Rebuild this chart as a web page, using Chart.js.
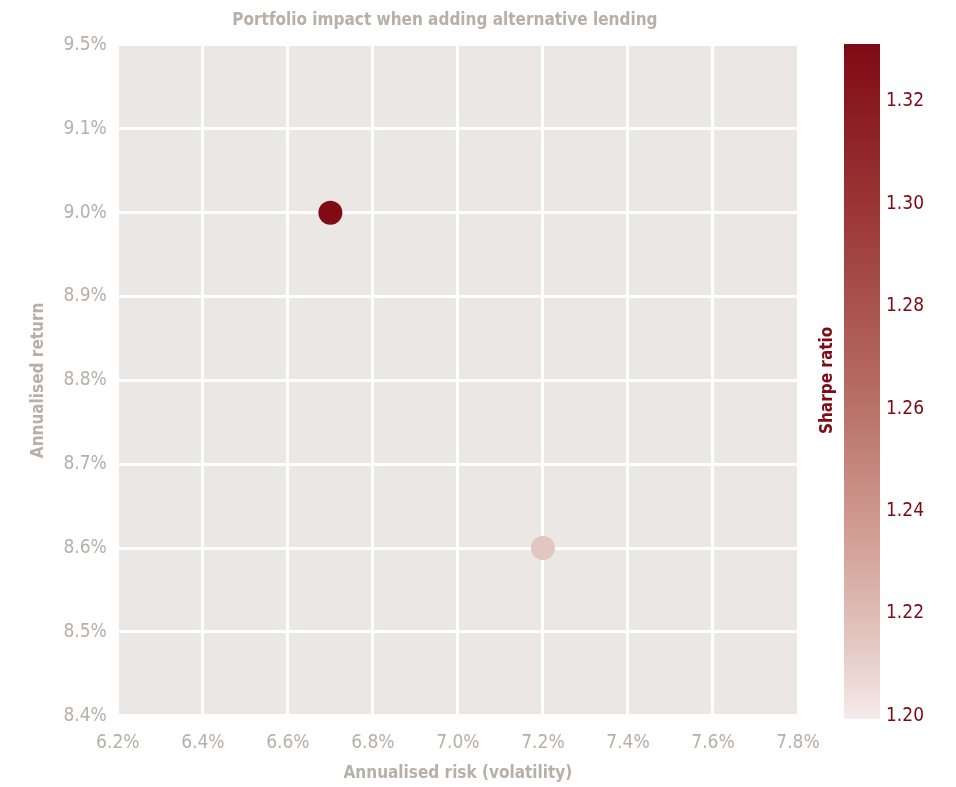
<!DOCTYPE html>
<html>
<head>
<meta charset="utf-8">
<script src="https://cdn.jsdelivr.net/npm/chart.js@4/dist/chart.umd.min.js"></script>
<style>
  html, body { margin: 0; padding: 0; background: #fff; }
  #wrap { width: 956px; height: 787px; position: relative; }
</style>
</head>
<body>
<div id="wrap"><canvas id="chart"></canvas></div>
<script>
// Data
const riskValues = [6.7, 7.2];
const returnValues = [9.0, 8.6];
const sharpeValues = [1.33, 1.215];

const xTickLabels = ['6.2%', '6.4%', '6.6%', '6.8%', '7.0%', '7.2%', '7.4%', '7.6%', '7.8%'];
const yTickLabels = ['8.4%', '8.5%', '8.6%', '8.7%', '8.8%', '8.9%', '9.0%', '9.1%', '9.5%'];
const sharpeTicks = [1.20, 1.22, 1.24, 1.26, 1.28, 1.30, 1.32];
const sharpeMin = 1.20;
const sharpeMax = 1.331;

const FONT = "'DejaVu Sans Condensed', 'Liberation Sans Narrow', sans-serif";
const GREY = '#b7afa8';
const DARK_RED = '#7d0a14';
const PLOT_BG = '#ebe7e4';

// colour map for the sharpe ratio, light -> dark
const cmapStops = [
  [0.0, [244, 233, 233]],
  [0.1, [228, 202, 196]],
  [0.25, [212, 162, 152]],
  [0.5, [180, 105, 95]],
  [0.75, [155, 55, 55]],
  [1.0, [128, 10, 20]]
];

function sharpeColor(v) {
  let t = (v - sharpeMin) / (sharpeMax - sharpeMin);
  t = Math.max(0, Math.min(1, t));
  for (let i = 1; i < cmapStops.length; i++) {
    const [t1, c1] = cmapStops[i];
    const [t0, c0] = cmapStops[i - 1];
    if (t <= t1) {
      const f = (t - t0) / (t1 - t0);
      const c = c0.map((a, k) => Math.round(a + (c1[k] - a) * f));
      return `rgb(${c[0]},${c[1]},${c[2]})`;
    }
  }
  return 'rgb(128,10,20)';
}

const points = riskValues.map((x, i) => ({ x: x, y: returnValues[i] }));

// plot background, title and colour bar
const decorPlugin = {
  id: 'decor',
  beforeDraw(chart) {
    const { ctx, chartArea } = chart;
    ctx.save();
    ctx.fillStyle = PLOT_BG;
    ctx.fillRect(chartArea.left, chartArea.top, chartArea.right - chartArea.left, chartArea.bottom - chartArea.top);
    ctx.fillStyle = GREY;
    ctx.font = `bold 17px ${FONT}`;
    ctx.textAlign = 'center';
    ctx.textBaseline = 'middle';
    ctx.fillText('Portfolio impact when adding alternative lending', (chartArea.left + chartArea.right) / 2 - 13, 21);
    ctx.restore();
  },
  afterDraw(chart) {
    const { ctx } = chart;
    const cb = chart.scales.cb;
    const barLeft = cb.left + 46;
    const barWidth = 36;
    const grad = ctx.createLinearGradient(0, cb.bottom, 0, cb.top);
    cmapStops.forEach(([t, c]) => grad.addColorStop(t, `rgb(${c[0]},${c[1]},${c[2]})`));
    ctx.save();
    ctx.fillStyle = grad;
    ctx.fillRect(barLeft, cb.top - 1, barWidth, cb.bottom - cb.top + 4);

    // colour bar tick labels, placed through the cb scale
    ctx.fillStyle = DARK_RED;
    ctx.font = `19px ${FONT}`;
    ctx.textAlign = 'left';
    ctx.textBaseline = 'middle';
    sharpeTicks.forEach(v => {
      ctx.fillText(v.toFixed(2), barLeft + barWidth + 6, cb.getPixelForValue(v));
    });

    ctx.translate(cb.left + 30, (cb.top + cb.bottom) / 2);
    ctx.rotate(-Math.PI / 2);
    ctx.font = `bold 17px ${FONT}`;
    ctx.textAlign = 'center';
    ctx.fillText('Sharpe ratio', 0, 0);
    ctx.restore();
  }
};

new Chart(document.getElementById('chart'), {
  type: 'scatter',
  data: {
    datasets: [{
      label: 'Portfolios',
      data: points,
      pointRadius: 12,
      pointHoverRadius: 12,
      pointBorderWidth: 0,
      pointBackgroundColor: sharpeValues.map(sharpeColor),
      pointBorderColor: sharpeValues.map(sharpeColor)
    }]
  },
  options: {
    responsive: true,
    maintainAspectRatio: false,
    animation: false,
    layout: { padding: { left: 28, right: 34, top: 45, bottom: 3 } },
    plugins: {
      legend: { display: false },
      tooltip: { enabled: false },
      title: { display: false }
    },
    scales: {
      x: {
        type: 'linear',
        min: 6.2,
        max: 7.8,
        afterBuildTicks(scale) {
          scale.ticks = xTickLabels.map((_, i) => ({ value: 6.2 + i * 0.2 }));
        },
        ticks: {
          color: GREY,
          font: { family: FONT, size: 19 },
          padding: 16,
          maxRotation: 0,
          callback: (v, i) => xTickLabels[i]
        },
        grid: { color: '#ffffff', lineWidth: 3, drawTicks: false },
        border: { display: false },
        title: {
          display: true,
          text: 'Annualised risk (volatility)',
          color: GREY,
          font: { family: FONT, size: 17, weight: 'bold' },
          padding: { top: -7, bottom: 0 }
        }
      },
      y: {
        type: 'linear',
        min: 8.4,
        max: 9.2,
        afterBuildTicks(scale) {
          scale.ticks = yTickLabels.map((_, i) => ({ value: 8.4 + i * 0.1 }));
        },
        ticks: {
          color: GREY,
          font: { family: FONT, size: 19 },
          padding: 11,
          callback: (v, i) => yTickLabels[i]
        },
        grid: { color: '#ffffff', lineWidth: 3, drawTicks: false },
        border: { display: false },
        title: {
          display: true,
          text: 'Annualised return',
          color: GREY,
          font: { family: FONT, size: 17, weight: 'bold' },
          padding: { top: 0, bottom: 4 }
        }
      },
      cb: {
        type: 'linear',
        position: 'right',
        min: sharpeMin,
        max: sharpeMax,
        afterFit(scale) {
          scale.width = 124;
        },
        ticks: { display: false },
        grid: { display: false, drawTicks: false },
        border: { display: false }
      }
    }
  },
  plugins: [decorPlugin]
});
</script>
</body>
</html>
